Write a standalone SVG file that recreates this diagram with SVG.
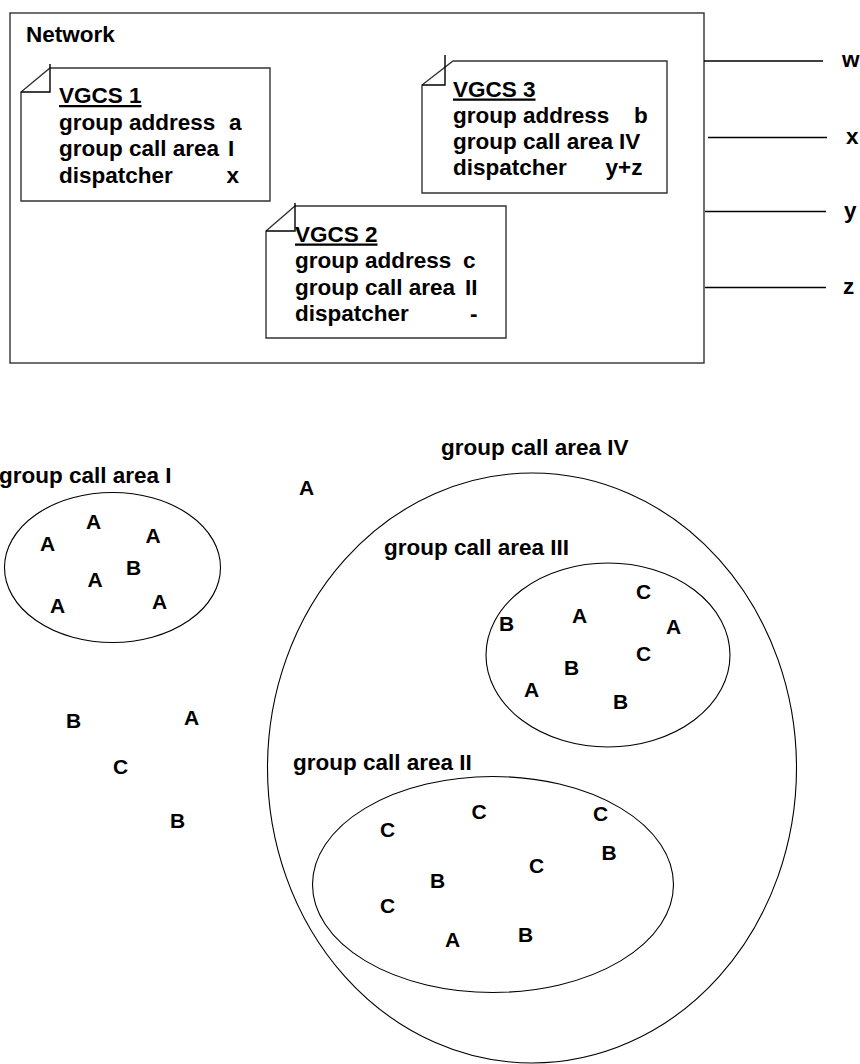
<svg xmlns="http://www.w3.org/2000/svg" width="860" height="1064" viewBox="0 0 860 1064">
<style>
  text { font-family: "Liberation Sans", Arial, sans-serif; font-weight: bold; fill: #000; }
  .t { font-size: 22.5px; }
  .l { font-size: 21px; }
  .box { fill: #fff; stroke: #333; stroke-width: 1.4; }
  .fold { fill: none; stroke: #000; stroke-width: 1.4; }
  .area { fill: none; stroke: #000; stroke-width: 1.1; }
  .conn { stroke: #000; stroke-width: 1.6; fill: none; }
</style>
<rect width="860" height="1064" fill="#fff"/>

<g id="network">
  <rect x="10" y="13" width="694" height="350" class="box"/>
  <text x="26" y="42" class="t">Network</text>
</g>

<g id="vgcs1">
  <polygon points="50,68 270,68 270,201 21,201 21,92" class="box"/>
  <path d="M50,64 V92 H21" class="fold"/>
  <text x="59" y="103" class="t" text-decoration="underline">VGCS 1</text>
  <text y="129.5" class="t"><tspan x="59">group address</tspan><tspan x="229">a</tspan></text>
  <text y="156" class="t"><tspan x="59">group call area</tspan><tspan x="228">I</tspan></text>
  <text y="182.5" class="t"><tspan x="59">dispatcher</tspan><tspan x="226.5">x</tspan></text>
</g>

<g id="vgcs2">
  <polygon points="295,206 506,206 506,338 266,338 266,231" class="box"/>
  <path d="M295,203 V231 H266" class="fold"/>
  <text x="295" y="241.5" class="t" text-decoration="underline">VGCS 2</text>
  <text y="268" class="t"><tspan x="295">group address</tspan><tspan x="463">c</tspan></text>
  <text y="294.5" class="t"><tspan x="295">group call area</tspan><tspan x="465">II</tspan></text>
  <text y="321" class="t"><tspan x="295">dispatcher</tspan><tspan x="470">-</tspan></text>
</g>

<g id="vgcs3">
  <polygon points="453,61 667,61 667,193 422,193 422,85" class="box"/>
  <path d="M445,55 V85 H422" class="fold"/>
  <text x="453" y="96.5" class="t" text-decoration="underline">VGCS 3</text>
  <text y="122.7" class="t"><tspan x="453">group address</tspan><tspan x="634">b</tspan></text>
  <text y="149" class="t"><tspan x="453">group call area</tspan><tspan x="619">IV</tspan></text>
  <text y="175.3" class="t"><tspan x="453">dispatcher</tspan><tspan x="605.5">y+z</tspan></text>
</g>

<g id="connectors">
  <line x1="704" y1="61" x2="823" y2="61" class="conn"/>
  <line x1="708" y1="137.5" x2="827" y2="137.5" class="conn"/>
  <line x1="705" y1="211.5" x2="826" y2="211.5" class="conn"/>
  <line x1="705" y1="287.5" x2="826" y2="287.5" class="conn"/>
</g>
<g id="dispatchers">
  <text x="842" y="67" class="t">w</text>
  <text x="846" y="144" class="t">x</text>
  <text x="844" y="217.5" class="t">y</text>
  <text x="843" y="293.5" class="t">z</text>
</g>

<g id="area-I">
  <text x="171.5" y="482.5" class="t" text-anchor="end">group call area I</text>
  <ellipse cx="112.5" cy="567.5" rx="108" ry="75" class="area"/>
  <text x="86" y="529" class="l">A</text>
  <text x="40" y="551" class="l">A</text>
  <text x="145.5" y="542.5" class="l">A</text>
  <text x="126" y="575" class="l">B</text>
  <text x="87.5" y="586.5" class="l">A</text>
  <text x="50" y="612.5" class="l">A</text>
  <text x="152" y="609" class="l">A</text>
</g>

<g id="outside">
  <text x="66" y="728" class="l">B</text>
  <text x="184" y="725" class="l">A</text>
  <text x="113" y="774" class="l">C</text>
  <text x="170" y="828" class="l">B</text>
  <text x="299" y="495" class="l">A</text>
</g>

<g id="area-IV">
  <text x="441" y="454.5" class="t">group call area IV</text>
  <ellipse cx="532" cy="768" rx="264.5" ry="295" class="area"/>
</g>

<g id="area-III">
  <text x="384" y="554.5" class="t">group call area III</text>
  <ellipse cx="608" cy="655" rx="122" ry="92" class="area"/>
  <text x="636" y="599" class="l">C</text>
  <text x="499" y="631" class="l">B</text>
  <text x="572" y="622.5" class="l">A</text>
  <text x="666" y="633.5" class="l">A</text>
  <text x="636" y="660.5" class="l">C</text>
  <text x="564" y="675" class="l">B</text>
  <text x="524" y="696.5" class="l">A</text>
  <text x="613" y="708.5" class="l">B</text>
</g>

<g id="area-II">
  <text x="293" y="769.5" class="t">group call area II</text>
  <ellipse cx="493" cy="884.5" rx="180.5" ry="108" class="area"/>
  <text x="380" y="836.5" class="l">C</text>
  <text x="471.5" y="819" class="l">C</text>
  <text x="593" y="820.5" class="l">C</text>
  <text x="601.5" y="860" class="l">B</text>
  <text x="529" y="873" class="l">C</text>
  <text x="430" y="888" class="l">B</text>
  <text x="380" y="912.5" class="l">C</text>
  <text x="445" y="946.5" class="l">A</text>
  <text x="518" y="942" class="l">B</text>
</g>
</svg>
